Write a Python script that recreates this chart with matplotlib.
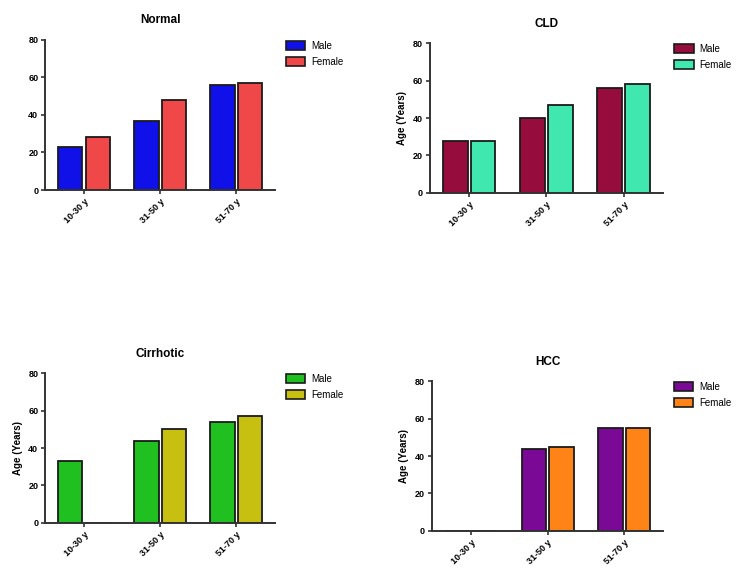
import numpy as np
import matplotlib.pyplot as plt
from matplotlib.patches import Patch

plt.rcParams['font.family'] = ['Liberation Sans', 'DejaVu Sans']

# Datos
grupos = ["10-30 y", "31-50 y", "51-70 y"]
titulos = ["Normal", "CLD", "Cirrhotic", "HCC"]
hombres = {
    "Normal": [23, 37, 56],
    "CLD": [28, 40, 56],
    "Cirrhotic": [33, 44, 54],
    "HCC": [0, 44, 55],
}
mujeres = {
    "Normal": [28, 48, 57],
    "CLD": [28, 47, 58],
    "Cirrhotic": [0, 50, 57],
    "HCC": [0, 45, 55],
}
colores = {
    "Normal": ("#1010e8", "#f04848"),
    "CLD": ("#960c3c", "#40e8b0"),
    "Cirrhotic": ("#20c020", "#c8c010"),
    "HCC": ("#7a0a96", "#ff8418"),
}
conEtiqueta = {"Normal": False, "CLD": True, "Cirrhotic": True, "HCC": True}

# Posiciones de los ejes [left, bottom, width, height]
posiciones = {
    "Normal": [0.061, 0.666, 0.310, 0.264],
    "CLD": [0.580, 0.661, 0.315, 0.263],
    "Cirrhotic": [0.061, 0.081, 0.310, 0.263],
    "HCC": [0.583, 0.067, 0.312, 0.263],
}

fig = plt.figure(figsize=(7.41, 5.69), dpi=100)
x = np.arange(len(grupos))
ancho = 0.32
desp = 0.18

for nombre in titulos:
    ax = fig.add_axes(posiciones[nombre])
    cM, cF = colores[nombre]
    ax.bar(x - desp, hombres[nombre], ancho, color=cM, edgecolor="#1a1a1a", linewidth=1.3)
    ax.bar(x + desp, mujeres[nombre], ancho, color=cF, edgecolor="#1a1a1a", linewidth=1.3)
    ax.set_xlim(-0.51, 2.51)
    ax.set_ylim(0, 80)
    ax.set_yticks([0, 20, 40, 60, 80])
    ax.set_xticks(x)
    ax.set_xticklabels(grupos, rotation=45, ha="right", rotation_mode="anchor",
                       fontsize=6.5, fontweight="bold")
    for lbl in ax.get_yticklabels():
        lbl.set_fontsize(6.5)
        lbl.set_fontweight("bold")
    for s in ["top", "right"]:
        ax.spines[s].set_visible(False)
    for s in ["left", "bottom"]:
        ax.spines[s].set_linewidth(1.4)
        ax.spines[s].set_color("#333333")
    ax.tick_params(width=1.2, length=3, color="#333333", pad=2)
    ax.set_title(nombre, fontsize=8.5, fontweight="bold", pad=12)
    if conEtiqueta[nombre]:
        ax.set_ylabel("Age (Years)", fontsize=7, fontweight="bold", labelpad=4)
    manijas = [Patch(facecolor=cM, edgecolor="#1a1a1a", linewidth=1.2, label="Male"),
               Patch(facecolor=cF, edgecolor="#1a1a1a", linewidth=1.2, label="Female")]
    ax.legend(handles=manijas, loc="upper left", bbox_to_anchor=(1.03, 1.02),
              frameon=False, fontsize=7, handlelength=2.0, handleheight=1.0,
              labelspacing=0.6, handletextpad=0.6, borderaxespad=0)

fig.savefig("out.png", dpi=100)
